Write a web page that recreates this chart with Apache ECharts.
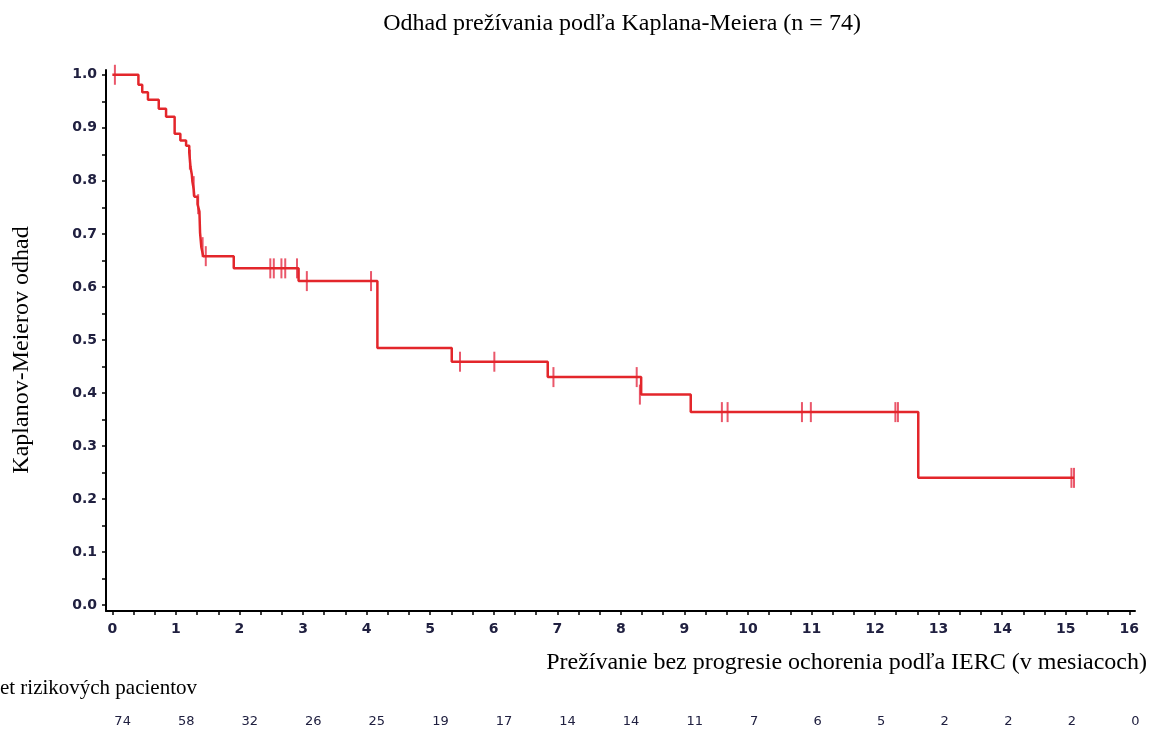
<!DOCTYPE html>
<html>
<head>
<meta charset="utf-8">
<script src="https://cdn.jsdelivr.net/npm/echarts@6/dist/echarts.min.js"></script>
<style>
html,body{margin:0;padding:0;background:#fff;}
#c{width:1150px;height:730px;}
</style>
</head>
<body>
<div id="c"></div>
<script>
// Kaplan-Meier step curve (time in months, survival estimate)
const times = [0, 0.41, 0.47, 0.56, 0.73, 0.845, 0.98, 1.07, 1.16, 1.21, 1.22, 1.23, 1.25, 1.26, 1.28, 1.29, 1.34, 1.37, 1.38, 1.40, 1.43, 1.91, 2.93, 4.17, 5.34, 6.85, 8.32, 9.10, 12.68, 15.13];
const surv  = [1.0, 0.981, 0.967, 0.953, 0.936, 0.921, 0.889, 0.876, 0.866, 0.853, 0.840, 0.826, 0.812, 0.798, 0.784, 0.770, 0.756, 0.742, 0.702, 0.675, 0.658, 0.635, 0.611, 0.485, 0.459, 0.430, 0.397, 0.364, 0.240, 0.240];
// censored observations
const censorT = [0.04, 1.22, 1.28, 1.35, 1.42, 1.47, 2.485, 2.54, 2.66, 2.72, 2.905, 3.06, 4.07, 5.47, 6.01, 6.94, 8.25, 8.30, 9.59, 9.68, 10.85, 10.99, 12.32, 12.36, 15.09, 15.13];
const censorS = [1.0, 0.840, 0.790, 0.756, 0.675, 0.658, 0.635, 0.635, 0.635, 0.635, 0.635, 0.611, 0.611, 0.459, 0.459, 0.430, 0.430, 0.397, 0.364, 0.364, 0.364, 0.364, 0.364, 0.364, 0.240, 0.240];
// axis ticks
const xTickLabels = [0,1,2,3,4,5,6,7,8,9,10,11,12,13,14,15,16];
const yTickLabels = [0,0.1,0.2,0.3,0.4,0.5,0.6,0.7,0.8,0.9,1.0];
// number at risk at each month
const atRisk = [74,58,32,26,25,19,17,14,14,11,7,6,5,2,2,2,0];

const titleText = 'Odhad prežívania podľa Kaplana-Meiera (n = 74)';
const xName = 'Prežívanie bez progresie ochorenia podľa IERC (v mesiacoch)';
const yName = 'Kaplanov-Meierov odhad';
const riskName = 'Počet rizikových pacientov';

const xMinor = []; for (let i = 0; i <= 48; i++) xMinor.push(i / 3);
const yMinor = []; for (let i = 0; i <= 20; i++) yMinor.push(i / 20);

const lineData = times.map((t, i) => [t, surv[i]]);
const censorData = censorT.map((t, i) => [t, censorS[i]]);

const sans = "'DejaVu Sans', 'Liberation Sans', sans-serif";
const tickColor = '#202040';

const chart = echarts.init(document.getElementById('c'), null, {renderer: 'canvas'});
chart.setOption({
  animation: false,
  backgroundColor: '#fff',
  grid: [
    {left: 106, right: 15, top: 70, bottom: 119, containLabel: false},
    {left: 106, right: 15, top: 700, height: 1, containLabel: false}
  ],
  xAxis: [
    {
      type: 'value', gridIndex: 0, min: -0.1, max: 16.09,
      axisLine: {show: true, onZero: false, lineStyle: {color: '#000', width: 2}},
      axisTick: {show: true, length: 4, lineStyle: {color: '#000', width: 1.5}, customValues: xMinor},
      axisLabel: {show: true, margin: 11, color: tickColor, fontFamily: sans, fontWeight: 'bold', fontSize: 14, customValues: xTickLabels, formatter: v => String(Math.round(v))},
      splitLine: {show: false}
    },
    {
      type: 'value', gridIndex: 1, min: -0.1, max: 16.09,
      axisLine: {show: false}, axisTick: {show: false}, splitLine: {show: false},
      axisLabel: {show: true, margin: 14, color: tickColor, fontFamily: sans, fontSize: 13, align: 'left', padding: [0,0,0,2],
        customValues: xTickLabels, formatter: v => String(atRisk[Math.round(v)])}
    }
  ],
  yAxis: [
    {
      type: 'value', gridIndex: 0, min: -0.011, max: 1.009,
      axisLine: {show: true, onZero: false, lineStyle: {color: '#000', width: 2}},
      axisTick: {show: true, length: 4, lineStyle: {color: '#000', width: 1.5}, customValues: yMinor},
      axisLabel: {show: true, margin: 9, color: tickColor, fontFamily: sans, fontWeight: 'bold', fontSize: 14, customValues: yTickLabels, formatter: v => v.toFixed(1)},
      splitLine: {show: false}
    },
    {
      type: 'value', gridIndex: 1, min: 0, max: 1, show: false
    }
  ],
  graphic: [
    {type: 'text', x: 622, y: 24, style: {text: titleText, font: "24px 'Liberation Serif'", fill: '#000', textAlign: 'center', textVerticalAlign: 'middle'}},
    {type: 'text', x: 1147, y: 663, style: {text: xName, font: "24px 'Liberation Serif'", fill: '#000', textAlign: 'right', textVerticalAlign: 'middle'}},
    {type: 'text', x: 22, y: 350, rotation: Math.PI / 2, style: {text: yName, font: "24px 'Liberation Serif'", fill: '#000', textAlign: 'center', textVerticalAlign: 'middle'}},
    {type: 'text', x: 197, y: 688, style: {text: riskName, font: "21px 'Liberation Serif'", fill: '#000', textAlign: 'right', textVerticalAlign: 'middle'}}
  ],
  series: [
    {
      type: 'line', xAxisIndex: 0, yAxisIndex: 0, step: 'end', data: lineData,
      showSymbol: false, symbol: 'none',
      lineStyle: {color: '#e3262b', width: 2.5}
    },
    {
      type: 'scatter', xAxisIndex: 0, yAxisIndex: 0, data: censorData,
      symbol: 'rect', symbolSize: [2, 20],
      itemStyle: {color: '#e8455a', opacity: 0.9}
    }
  ]
});
</script>
</body>
</html>
